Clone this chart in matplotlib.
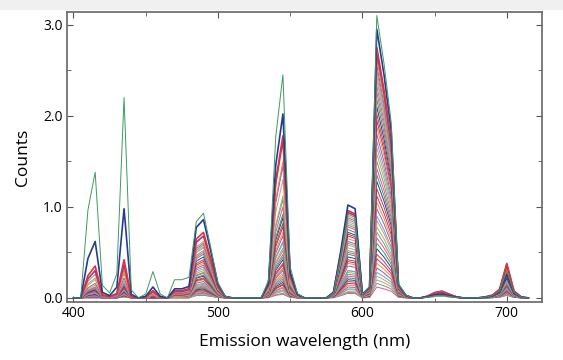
import matplotlib
matplotlib.use("Agg")
import matplotlib.pyplot as plt
import numpy as np
from matplotlib.patches import Rectangle
from matplotlib.ticker import MultipleLocator

# wavelength grid (nm)
wavelength = np.arange(400, 716, 5)

# band shapes: (first wavelength, normalised values every 5 nm)
band_shapes = [
    (405, [0.0, 0.70, 1.0, 0.10, 0.04]),                 # 415
    (425, [0.0, 0.12, 1.0, 0.04, 0.0]),                  # 435
    (445, [0.0, 0.15, 1.0, 0.15, 0.0]),                  # 455
    (465, [0.0, 1.0, 1.0, 1.0]),                         # 470-480 plateau
    (480, [0.03, 0.90, 1.0, 0.60, 0.18, 0.02]),          # 490
    (530, [0.0, 0.08, 0.72, 1.0, 0.14, 0.02]),           # 545
    (575, [0.0, 0.06, 0.50, 1.0, 0.96, 0.04]),           # 590
    (600, [0.0, 0.04, 1.0, 0.83, 0.62, 0.05, 0.01]),     # 610
    (640, [0.0, 0.30, 0.80, 1.0, 0.60, 0.20, 0.0]),      # 655
    (685, [0.03, 0.08, 0.25, 1.0, 0.20, 0.03, 0.0]),     # 700
]

# peak heights of each spectrum, one column per band above
heights = [
    [1.38, 2.20, 0.29, 0.20, 0.93, 2.45, 0.92, 3.10, 0.03, 0.30],
    [0.62, 0.98, 0.12, 0.10, 0.86, 2.02, 1.02, 2.95, 0.04, 0.26],
    [0.35, 0.42, 0.08, 0.08, 0.72, 1.78, 0.96, 2.75, 0.05, 0.38],
    [0.30, 0.36, 0.07, 0.07, 0.68, 1.74, 0.94, 2.70, 0.06, 0.36],
    [0.22, 0.28, 0.05, 0.06, 0.62, 1.50, 0.90, 2.62, 0.05, 0.32],
    [0.16, 0.22, 0.05, 0.05, 0.60, 1.46, 0.88, 2.56, 0.07, 0.30],
    [0.26, 0.31, 0.05, 0.05, 0.58, 1.45, 0.86, 2.50, 0.05, 0.34],
    [0.14, 0.19, 0.04, 0.05, 0.55, 1.30, 0.84, 2.44, 0.04, 0.28],
    [0.20, 0.27, 0.04, 0.05, 0.56, 1.12, 0.82, 2.40, 0.04, 0.26],
    [0.12, 0.16, 0.03, 0.04, 0.52, 1.08, 0.80, 2.33, 0.05, 0.27],
    [0.11, 0.15, 0.03, 0.04, 0.50, 1.00, 0.78, 2.26, 0.04, 0.25],
    [0.10, 0.14, 0.03, 0.04, 0.48, 0.92, 0.75, 2.18, 0.06, 0.26],
    [0.09, 0.13, 0.03, 0.04, 0.45, 0.88, 0.72, 2.10, 0.05, 0.22],
    [0.09, 0.12, 0.03, 0.03, 0.42, 0.82, 0.70, 2.02, 0.04, 0.22],
    [0.08, 0.11, 0.02, 0.03, 0.40, 0.78, 0.68, 1.95, 0.08, 0.24],
    [0.12, 0.17, 0.02, 0.03, 0.38, 0.72, 0.65, 1.88, 0.04, 0.20],
    [0.07, 0.10, 0.02, 0.03, 0.36, 0.68, 0.62, 1.80, 0.05, 0.21],
    [0.07, 0.10, 0.02, 0.03, 0.34, 0.62, 0.60, 1.72, 0.04, 0.18],
    [0.06, 0.09, 0.02, 0.03, 0.32, 0.60, 0.58, 1.65, 0.05, 0.22],
    [0.06, 0.09, 0.02, 0.02, 0.30, 0.55, 0.55, 1.58, 0.04, 0.17],
    [0.05, 0.08, 0.02, 0.02, 0.28, 0.52, 0.52, 1.50, 0.05, 0.18],
    [0.05, 0.08, 0.02, 0.02, 0.27, 0.48, 0.50, 1.42, 0.07, 0.16],
    [0.06, 0.09, 0.02, 0.02, 0.25, 0.45, 0.48, 1.35, 0.04, 0.15],
    [0.04, 0.07, 0.01, 0.02, 0.24, 0.42, 0.45, 1.28, 0.05, 0.16],
    [0.05, 0.07, 0.01, 0.02, 0.22, 0.38, 0.42, 1.20, 0.04, 0.14],
    [0.04, 0.06, 0.01, 0.02, 0.21, 0.36, 0.40, 1.12, 0.05, 0.13],
    [0.04, 0.06, 0.01, 0.02, 0.20, 0.33, 0.38, 1.05, 0.06, 0.14],
    [0.03, 0.05, 0.01, 0.02, 0.18, 0.30, 0.35, 0.98, 0.04, 0.12],
    [0.03, 0.05, 0.01, 0.02, 0.16, 0.32, 0.30, 0.90, 0.03, 0.10],
    [0.03, 0.05, 0.01, 0.01, 0.15, 0.27, 0.30, 0.85, 0.05, 0.11],
    [0.03, 0.04, 0.01, 0.01, 0.14, 0.25, 0.28, 0.78, 0.04, 0.10],
    [0.02, 0.04, 0.01, 0.01, 0.13, 0.23, 0.26, 0.72, 0.05, 0.10],
    [0.02, 0.04, 0.01, 0.01, 0.12, 0.21, 0.24, 0.66, 0.04, 0.09],
    [0.02, 0.03, 0.01, 0.01, 0.11, 0.19, 0.22, 0.60, 0.06, 0.08],
    [0.02, 0.03, 0.01, 0.01, 0.10, 0.17, 0.20, 0.54, 0.04, 0.08],
    [0.02, 0.03, 0.00, 0.01, 0.09, 0.15, 0.18, 0.48, 0.03, 0.07],
    [0.01, 0.02, 0.00, 0.01, 0.08, 0.14, 0.16, 0.43, 0.05, 0.07],
    [0.01, 0.02, 0.00, 0.01, 0.07, 0.12, 0.14, 0.38, 0.04, 0.06],
    [0.01, 0.02, 0.00, 0.01, 0.06, 0.11, 0.12, 0.33, 0.03, 0.05],
    [0.01, 0.02, 0.00, 0.01, 0.05, 0.09, 0.10, 0.28, 0.04, 0.05],
    [0.01, 0.01, 0.00, 0.00, 0.05, 0.08, 0.09, 0.24, 0.03, 0.04],
    [0.01, 0.01, 0.00, 0.00, 0.04, 0.07, 0.07, 0.20, 0.02, 0.04],
    [0.00, 0.01, 0.00, 0.00, 0.03, 0.05, 0.06, 0.16, 0.02, 0.03],
    [0.00, 0.01, 0.00, 0.00, 0.03, 0.04, 0.05, 0.12, 0.02, 0.03],
]

palette = ['#3d9a62', '#283b8e', '#d9343f', '#b8336a', '#f08d3c', '#9060b0',
           '#5ba8c8', '#ef8a80', '#86c06c', '#8c8c8c', '#e05590']

fig = plt.figure(figsize=(5.63, 3.6), dpi=100)
fig.patches.append(Rectangle((0, 0.975), 1, 0.025, transform=fig.transFigure,
                             color='#f0f0f0', zorder=0))
ax = fig.add_axes([0.119, 0.161, 0.844, 0.806])

for i in range(len(heights) - 1, -1, -1):
    spec = np.zeros(len(wavelength))
    for (start, shape), h in zip(band_shapes, heights[i]):
        j = (start - 400) // 5
        n = min(len(shape), len(wavelength) - j)
        spec[j:j + n] += h * np.array(shape[:n])
    lw = 1.2 if i in (1, 2, 3) else 0.7
    ax.plot(wavelength, spec, color=palette[i % len(palette)], lw=lw)

ax.set_xlim(395.5, 724.5)
ax.set_ylim(-0.045, 3.14)
ax.xaxis.set_major_locator(MultipleLocator(100))
ax.xaxis.set_minor_locator(MultipleLocator(50))
ax.yaxis.set_major_locator(MultipleLocator(1.0))
ax.yaxis.set_minor_locator(MultipleLocator(0.5))
ax.yaxis.set_major_formatter(matplotlib.ticker.FormatStrFormatter('%.1f'))
ax.tick_params(which='both', direction='in', top=True, right=True,
               color='#555555', labelsize=10, pad=3)
ax.tick_params(which='major', length=4)
ax.tick_params(which='minor', length=3)
for lab in ax.get_xticklabels() + ax.get_yticklabels():
    lab.set_family('Open Sans')
for s in ax.spines.values():
    s.set_color('#666666')
    s.set_linewidth(1.2)

ax.set_xlabel('Emission wavelength (nm)', family='Open Sans', fontsize=12.5, labelpad=9)
ax.set_ylabel('Counts', family='Open Sans', fontsize=12.5, labelpad=9)

fig.savefig('out.png', dpi=100)
